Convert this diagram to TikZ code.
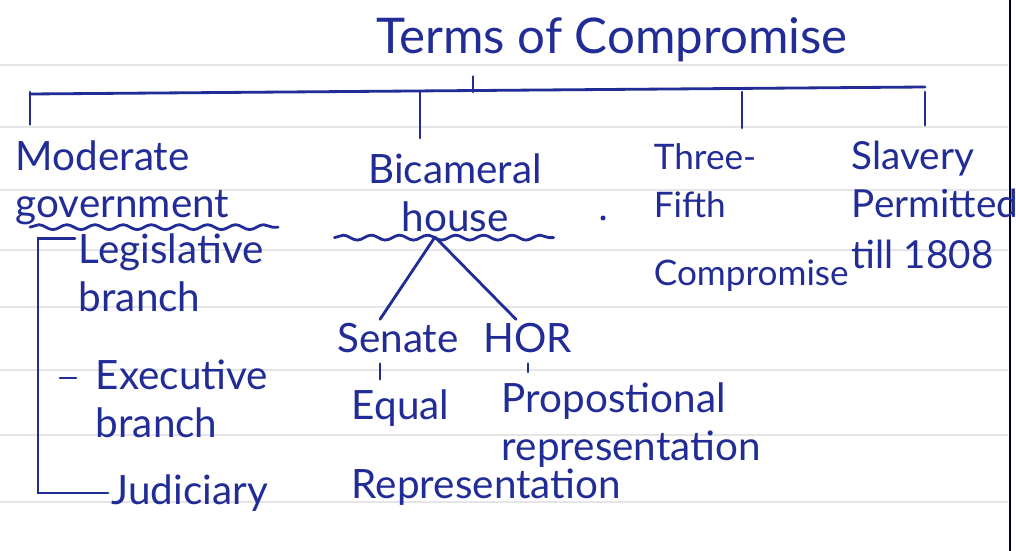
\documentclass[tikz,border=0pt]{standalone}
\usepackage{fontspec}
\setmainfont{Lato}
\usepackage{tikz}
\usetikzlibrary{positioning, calc, decorations.pathmorphing}
\definecolor{inkblue}{RGB}{34,44,150}

\begin{document}
\begin{tikzpicture}[
    x=0.2mm, y=0.2mm,
    ink/.style={draw=inkblue, line width=1.6pt, line cap=round},
    wavy/.style={ink, decorate, decoration={snake, amplitude=1.4pt, segment length=16pt}},
    word/.style={text=inkblue, font=\fontsize{23}{27}\selectfont, inner sep=2pt},
    rule/.style={draw=black!10, line width=0.6pt}
]
    % Page
    \useasboundingbox[fill=white] (0,0) rectangle (1016,-551);
    \foreach \y in {65,127,190,250,307,370,435,502}
        \draw[rule] (0,-\y) -- (1008,-\y);
    \draw[draw=black!80!blue, line width=1.5pt] (1010,0) -- (1010,-551);

    % Title
    \node[word, font=\fontsize{28}{32}\selectfont] (title) at (612,-40) {Terms of Compromise};

    % Four terms
    \node[word, align=left, anchor=west] (mod) at (12,-183) {Moderate\\government};
    \node[word, align=center] (bic) at (455,-193) {Bicameral\\house};
    \node[word, align=left, anchor=west, font=\fontsize{20}{27}\selectfont] (three) at (650,-218) {Three-\\Fifth\\[12pt]Compromise};
    \node[word, align=left, anchor=west, font=\fontsize{22}{27}\selectfont] (slav) at (848,-205) {Slavery\\Permitted\\[2pt]till 1808};

    % Branches
    \node[word, align=left, anchor=west] (leg) at (75,-273) {Legislative\\branch};
    \node[word, align=left, anchor=west] (exe) at (92,-399) {Executive\\branch};
    \node[word, anchor=west] (jud) at (108,-493) {Judiciary};

    % Houses
    \node[word] (sen) at (398,-338) {Senate};
    \node[word] (hor) at (528,-338) {HOR};
    \node[word, align=left, anchor=west] (eq) at (348,-448) {Equal\\[18pt]Representation};
    \node[word, align=left, anchor=west] (prop) at (498,-425) {Propostional\\representation};

    % Top bracket
    \coordinate (barL) at (30,-94);
    \coordinate (barR) at (925,-87);
    \coordinate (barT) at (473,-92);
    \draw[ink] (barL) -- (barR);
    \draw[ink, shorten <=6pt] (title.south -| barT) -- (barT);
    \foreach \n/\x in {mod/30, bic/420, three/742, slav/925}{
        \coordinate (t\n) at (\x,-92);
        \draw[ink, shorten >=7pt] (t\n) -- (t\n |- \n.north);
    }

    % Moderate government
    \draw[wavy] ($(mod.south west)+(18,2)$) -- ($(mod.south east)+(45,2)$);
    \coordinate (brk) at (38,0);
    \coordinate (legtop) at ($(leg.north west)+(0,-8)$);
    \draw[ink] (legtop) -- (brk |- legtop) -- (brk |- jud.west) -- (jud.west);
    \coordinate (dash) at (60,-378);
    \draw[ink] (dash) -- ++(16,0);

    % Bicameral house
    \draw[wavy] ($(bic.south west)+(-30,-2)$) -- ($(bic.south east)+(8,-2)$);
    \coordinate (fork) at (435,-237);
    \draw[ink] (fork) -- ($(sen.north)+(-18,0)$);
    \draw[ink] (fork) -- ($(hor.north)+(-12,0)$);
    \coordinate (senfoot) at ($(sen.south)+(-18,0)$);
    \draw[ink, shorten <=4pt, shorten >=4pt] (senfoot) -- (senfoot |- eq.north);
    \draw[ink, shorten <=4pt, shorten >=4pt] (hor.south) -- (hor.south |- prop.north);

    % stray dot
    \fill[inkblue] (603,-218) circle (2.5);
\end{tikzpicture}
\end{document}
